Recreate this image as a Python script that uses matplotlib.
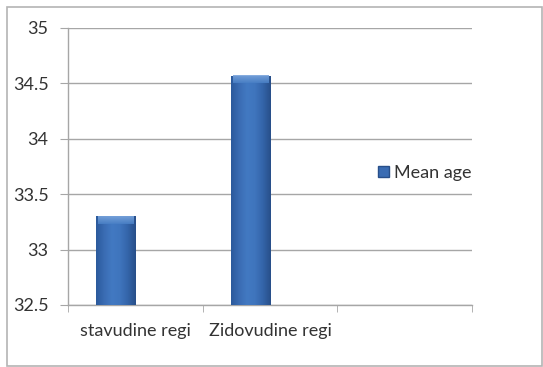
import numpy as np
import matplotlib.pyplot as plt
from matplotlib.patches import Rectangle, Patch
from matplotlib.colors import LinearSegmentedColormap

categories = ['stavudine regi', 'Zidovudine regi', '']
mean_age = [33.3, 34.57, None]
series_name = 'Mean age'
y_ticks = [32.5, 33, 33.5, 34, 34.5, 35]

plt.rcParams['font.family'] = ['Lato', 'DejaVu Sans']

fig = plt.figure(figsize=(5.43, 3.67), dpi=100)
ax = fig.add_axes([68 / 543, 62 / 367, 404 / 543, 277 / 367])

# outer chart frame
fig.patches.append(Rectangle((7 / 543, 1 / 367), 535 / 543, 359 / 367,
                             transform=fig.transFigure, fill=False,
                             edgecolor='#b4b4b4', linewidth=1.2))

grid_c = '#a6a6a6'
ax.set_ylim(32.5, 35)
ax.set_xlim(-0.5, 2.5)
ax.set_yticks(y_ticks)
ax.set_yticklabels([f'{t:g}' for t in y_ticks])
ax.yaxis.grid(True, color=grid_c, linewidth=1)
ax.set_axisbelow(True)

for side in ['top', 'right']:
    ax.spines[side].set_visible(False)
for side in ['left', 'bottom']:
    ax.spines[side].set_color(grid_c)
    ax.spines[side].set_linewidth(1)

ax.set_xticks(range(len(categories)))
ax.set_xticklabels(categories)
ax.set_xticks([-0.5, 0.5, 1.5, 2.5], minor=True)
ax.tick_params(axis='x', which='major', length=0, pad=13)
ax.tick_params(axis='x', which='minor', length=5, color=grid_c)
ax.tick_params(axis='y', length=6, color=grid_c, pad=8)
ax.tick_params(labelsize=13, labelcolor='#333333')

# shaded column fill, darker at the edges and lighter towards the middle
shade = LinearSegmentedColormap.from_list(
    'col', ['#2b5a9c', '#3a6cb3', '#4279c2', '#3f75bd', '#3465aa', '#284f8a'])
grad = np.linspace(0, 1, 64).reshape(1, -1)
bevel = LinearSegmentedColormap.from_list('bev', ['#4a80c6', '#7aa5dc'])
vgrad = np.linspace(0, 1, 16).reshape(-1, 1)

width = 0.29
offset = -0.145
for i, v in enumerate(mean_age):
    if v is None:
        continue
    x0 = i + offset - width / 2
    bar = ax.bar(i + offset, v - 32.5, bottom=32.5, width=width,
                 color='#3d6fb0', edgecolor='none', zorder=2)[0]
    im = ax.imshow(grad, cmap=shade, aspect='auto', zorder=3,
                   extent=[x0, x0 + width, 32.5, v])
    im.set_clip_path(bar)
    # lighter bevel along the top of the column
    top = ax.imshow(vgrad, cmap=bevel, aspect='auto', zorder=4, origin='lower',
                    extent=[x0 + 0.015, x0 + width - 0.015, v - 0.07, v])
    top.set_alpha(0.9)
ax.set_xlim(-0.5, 2.5)
ax.set_ylim(32.5, 35)

handle = Patch(facecolor='#3a6cb3', edgecolor='#284f8a')
fig.legend([handle], [series_name], loc='center left',
           bbox_to_anchor=(362 / 543, 1 - 173 / 367), frameon=False,
           fontsize=13, handlelength=0.6, handleheight=0.6,
           handletextpad=0.3, labelcolor='#333333')

fig.savefig('out.png', dpi=100)
